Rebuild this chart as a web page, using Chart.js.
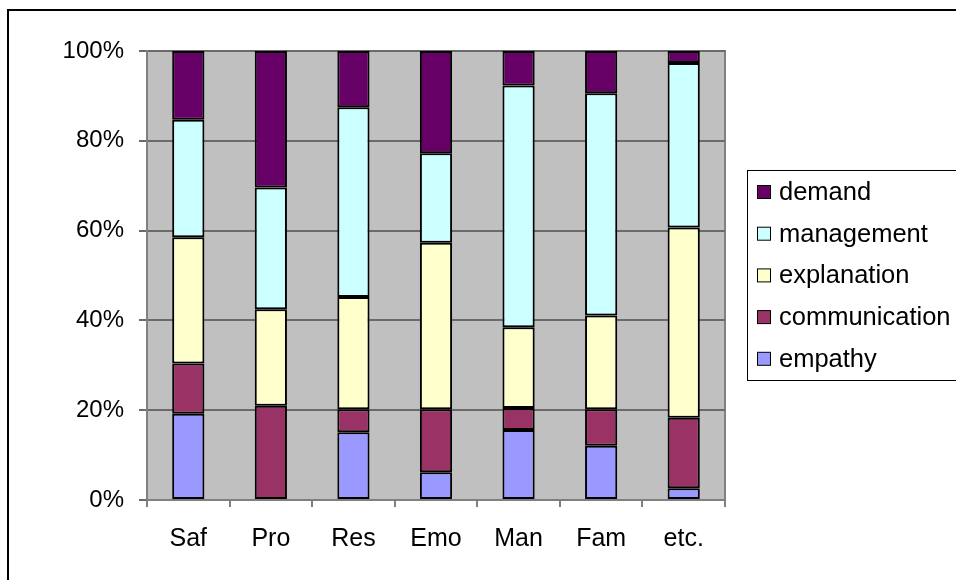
<!DOCTYPE html>
<html>
<head>
<meta charset="utf-8">
<script src="https://cdn.jsdelivr.net/npm/chart.js@4.4.1/dist/chart.umd.min.js"></script>
<style>
  html, body { margin: 0; padding: 0; background: #fff; overflow: hidden; }
  #frame { position: absolute; left: 7px; top: 9px; width: 1000px; height: 1000px; border: 2px solid #000; }
  #wrap { position: absolute; left: 0; top: 0; width: 956px; height: 580px; }
</style>
</head>
<body>
<div id="frame"></div>
<div id="wrap"><canvas id="chartCanvas" width="956" height="580"></canvas></div>
<script>
// categories and stacked shares (%)
const categories = ['Saf', 'Pro', 'Res', 'Emo', 'Man', 'Fam', 'etc.'];
const empathy       = [19.2, 0,    15.1, 6.2,  15.6, 12.1, 2.6];
const communication = [11.2, 21.0, 5.1,  14.0, 4.9,  8.1,  15.7];
const explanation   = [28.1, 21.5, 25.0, 37.1, 18.0, 20.9, 42.4];
const management    = [26.2, 27.1, 42.3, 19.9, 53.8, 49.5, 36.6];
const demand        = [15.3, 30.4, 12.5, 22.8, 7.7,  9.4,  2.7];
const yTicks = [0, 20, 40, 60, 80, 100];

const FONT = 'Liberation Sans, Arial, sans-serif';

function ds(label, data, color) {
  return {
    label: label, data: data, backgroundColor: color,
    borderColor: '#000', borderWidth: 2, borderSkipped: false,
    barPercentage: 0.39, categoryPercentage: 1
  };
}

// plot background + border
const plotBg = {
  id: 'plotBg',
  beforeDraw(chart) {
    const a = chart.chartArea, ctx = chart.ctx;
    ctx.save();
    ctx.fillStyle = '#c0c0c0';
    ctx.fillRect(a.left, a.top, a.right - a.left, a.bottom - a.top);
    ctx.strokeStyle = '#808080';
    ctx.lineWidth = 2;
    ctx.strokeRect(a.left, a.top, a.right - a.left, a.bottom - a.top);
    ctx.restore();
  }
};

// boxed legend on the right, top item = last dataset
const boxLegend = {
  id: 'boxLegend',
  afterDraw(chart) {
    const ctx = chart.ctx;
    ctx.save();
    ctx.strokeStyle = '#000';
    ctx.lineWidth = 1;
    ctx.strokeRect(747.5, 170.5, 240, 210);
    const sets = chart.data.datasets.slice().reverse();
    ctx.font = '25.5px ' + FONT;
    ctx.textBaseline = 'middle';
    sets.forEach((d, i) => {
      const cy = 192 + i * 41.7;
      ctx.fillStyle = d.backgroundColor;
      ctx.fillRect(757.5, cy - 6.5, 13, 13);
      ctx.strokeRect(757.5, cy - 6.5, 13, 13);
      ctx.fillStyle = '#000';
      ctx.fillText(d.label, 779, cy + 1);
    });
    ctx.restore();
  }
};

new Chart(document.getElementById('chartCanvas'), {
  type: 'bar',
  data: {
    labels: categories,
    datasets: [
      ds('empathy', empathy, '#9999ff'),
      ds('communication', communication, '#993366'),
      ds('explanation', explanation, '#ffffcc'),
      ds('management', management, '#ccffff'),
      ds('demand', demand, '#660066')
    ]
  },
  options: {
    responsive: false,
    animation: false,
    layout: { padding: { top: 51, right: 231, left: 0, bottom: 0 } },
    plugins: { legend: { display: false }, tooltip: { enabled: false } },
    scales: {
      x: {
        stacked: true,
        grid: { offset: true, drawOnChartArea: false, drawTicks: true, tickLength: 7, color: '#808080', lineWidth: 2 },
        border: { color: '#808080', width: 2 },
        ticks: { color: '#000', font: { family: FONT, size: 25 }, padding: 17 },
        afterFit(s) { s.height = 80; }
      },
      y: {
        stacked: true,
        min: 0, max: 100,
        afterBuildTicks(s) { s.ticks = yTicks.map(v => ({ value: v })); },
        grid: { color: '#6a6a6a', lineWidth: 2, tickLength: 8 },
        border: { color: '#808080', width: 2 },
        ticks: { color: '#000', font: { family: FONT, size: 24 }, padding: 15, callback: v => v + '%' },
        afterFit(s) { s.width = 147; }
      }
    }
  },
  plugins: [plotBg, boxLegend]
});
</script>
</body>
</html>
